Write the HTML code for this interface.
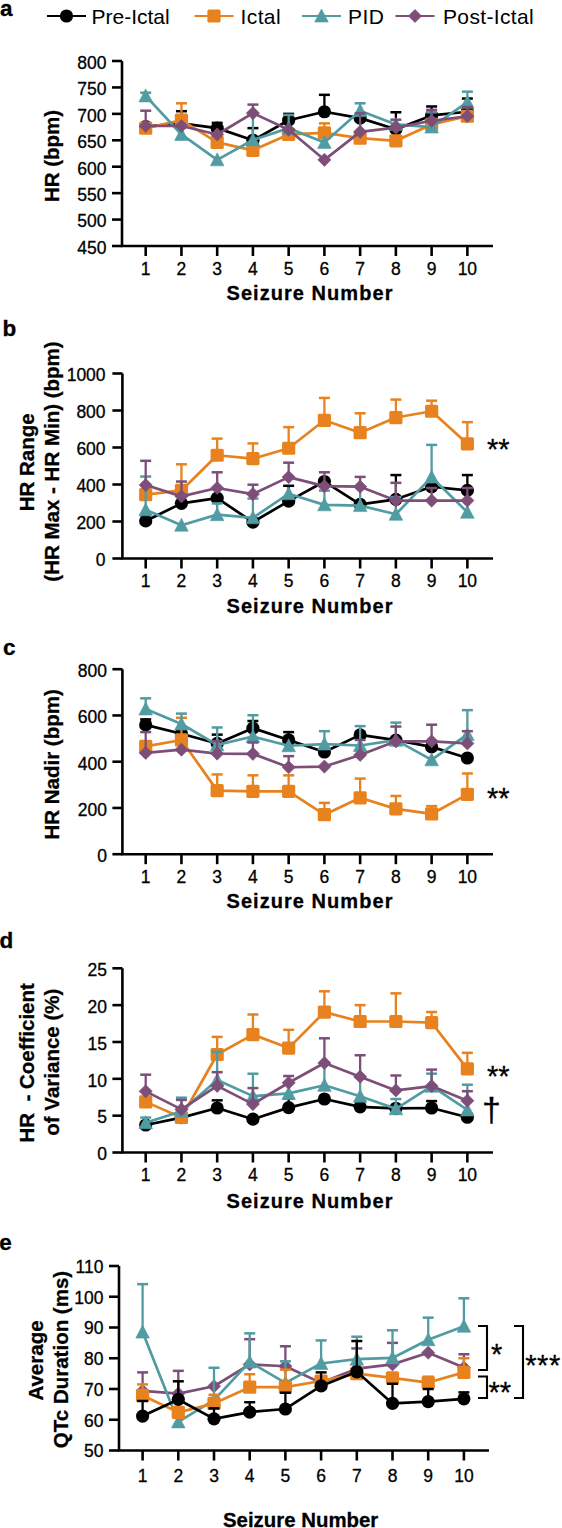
<!DOCTYPE html>
<html><head><meta charset="utf-8"><style>
html,body{margin:0;padding:0;background:#fff;}
svg{display:block;font-family:"Liberation Sans", sans-serif;}
text{stroke:#000;stroke-width:0.3px;paint-order:stroke;}
</style></head><body>
<svg width="562" height="1528" viewBox="0 0 562 1528" font-family='"Liberation Sans", sans-serif'>
<rect width="562" height="1528" fill="#fff"/>
<line x1="47" y1="16" x2="86" y2="16" stroke="#000000" stroke-width="2.2"/>
<circle cx="66.50" cy="16.00" r="6.60" fill="#000000"/>
<text x="91.5" y="23.5" font-size="21" letter-spacing="0" style="stroke-width:0">Pre-Ictal</text>
<line x1="194.5" y1="16" x2="233.5" y2="16" stroke="#E8821E" stroke-width="2.2"/>
<rect x="207.40" y="9.40" width="13.20" height="13.20" rx="1.6" fill="#E8821E"/>
<text x="240.5" y="23.5" font-size="21" letter-spacing="0.4" style="stroke-width:0">Ictal</text>
<line x1="302" y1="16" x2="341" y2="16" stroke="#519BA3" stroke-width="2.2"/>
<polygon points="321.50,9.00 328.30,22.00 314.70,22.00" fill="#519BA3" stroke="#519BA3" stroke-width="0.6" stroke-linejoin="round"/>
<text x="348" y="23.5" font-size="21" letter-spacing="0.4" style="stroke-width:0">PID</text>
<line x1="395.5" y1="16" x2="434.5" y2="16" stroke="#7C4E78" stroke-width="2.2"/>
<polygon points="415.00,9.40 421.60,16.00 415.00,22.60 408.40,16.00" fill="#7C4E78" stroke="#7C4E78" stroke-width="0.6" stroke-linejoin="round"/>
<text x="443" y="23.5" font-size="21" letter-spacing="0.35" style="stroke-width:0">Post-Ictal</text>
<path d="M122.00,61.00 V246.00 H493.00" fill="none" stroke="#000" stroke-width="2.6"/>
<line x1="112.00" y1="246.00" x2="122.00" y2="246.00" stroke="#000" stroke-width="2.6"/>
<text x="106.50" y="253.80" text-anchor="end" font-size="17.5">450</text>
<line x1="112.00" y1="219.57" x2="122.00" y2="219.57" stroke="#000" stroke-width="2.6"/>
<text x="106.50" y="227.37" text-anchor="end" font-size="17.5">500</text>
<line x1="112.00" y1="193.14" x2="122.00" y2="193.14" stroke="#000" stroke-width="2.6"/>
<text x="106.50" y="200.94" text-anchor="end" font-size="17.5">550</text>
<line x1="112.00" y1="166.71" x2="122.00" y2="166.71" stroke="#000" stroke-width="2.6"/>
<text x="106.50" y="174.51" text-anchor="end" font-size="17.5">600</text>
<line x1="112.00" y1="140.29" x2="122.00" y2="140.29" stroke="#000" stroke-width="2.6"/>
<text x="106.50" y="148.09" text-anchor="end" font-size="17.5">650</text>
<line x1="112.00" y1="113.86" x2="122.00" y2="113.86" stroke="#000" stroke-width="2.6"/>
<text x="106.50" y="121.66" text-anchor="end" font-size="17.5">700</text>
<line x1="112.00" y1="87.43" x2="122.00" y2="87.43" stroke="#000" stroke-width="2.6"/>
<text x="106.50" y="95.23" text-anchor="end" font-size="17.5">750</text>
<line x1="112.00" y1="61.00" x2="122.00" y2="61.00" stroke="#000" stroke-width="2.6"/>
<text x="106.50" y="68.80" text-anchor="end" font-size="17.5">800</text>
<line x1="145.70" y1="246.00" x2="145.70" y2="256.00" stroke="#000" stroke-width="2.6"/>
<text x="145.70" y="274.80" text-anchor="middle" font-size="17.5">1</text>
<line x1="181.44" y1="246.00" x2="181.44" y2="256.00" stroke="#000" stroke-width="2.6"/>
<text x="181.44" y="274.80" text-anchor="middle" font-size="17.5">2</text>
<line x1="217.18" y1="246.00" x2="217.18" y2="256.00" stroke="#000" stroke-width="2.6"/>
<text x="217.18" y="274.80" text-anchor="middle" font-size="17.5">3</text>
<line x1="252.92" y1="246.00" x2="252.92" y2="256.00" stroke="#000" stroke-width="2.6"/>
<text x="252.92" y="274.80" text-anchor="middle" font-size="17.5">4</text>
<line x1="288.66" y1="246.00" x2="288.66" y2="256.00" stroke="#000" stroke-width="2.6"/>
<text x="288.66" y="274.80" text-anchor="middle" font-size="17.5">5</text>
<line x1="324.40" y1="246.00" x2="324.40" y2="256.00" stroke="#000" stroke-width="2.6"/>
<text x="324.40" y="274.80" text-anchor="middle" font-size="17.5">6</text>
<line x1="360.14" y1="246.00" x2="360.14" y2="256.00" stroke="#000" stroke-width="2.6"/>
<text x="360.14" y="274.80" text-anchor="middle" font-size="17.5">7</text>
<line x1="395.88" y1="246.00" x2="395.88" y2="256.00" stroke="#000" stroke-width="2.6"/>
<text x="395.88" y="274.80" text-anchor="middle" font-size="17.5">8</text>
<line x1="431.62" y1="246.00" x2="431.62" y2="256.00" stroke="#000" stroke-width="2.6"/>
<text x="431.62" y="274.80" text-anchor="middle" font-size="17.5">9</text>
<line x1="467.36" y1="246.00" x2="467.36" y2="256.00" stroke="#000" stroke-width="2.6"/>
<text x="467.36" y="274.80" text-anchor="middle" font-size="17.5">10</text>
<text x="226.50" y="299.50" font-size="20" font-weight="bold" letter-spacing="1.05">Seizure Number</text>
<text transform="translate(58.80,156.00) rotate(-90)" text-anchor="middle" font-size="20.5" font-weight="bold">HR (bpm)</text>
<text x="0" y="16.3" font-size="22.5" font-weight="bold">a</text>
<polyline points="145.70,126.54 181.44,123.37 217.18,128.13 252.92,140.29 288.66,120.20 324.40,111.74 360.14,118.09 395.88,129.19 431.62,115.44 467.36,111.74" fill="none" stroke="#000000" stroke-width="2.7" stroke-linejoin="round"/>
<line x1="181.44" y1="123.37" x2="181.44" y2="111.21" stroke="#000000" stroke-width="2.3"/>
<line x1="175.94" y1="111.21" x2="186.94" y2="111.21" stroke="#000000" stroke-width="2.5"/>
<line x1="217.18" y1="128.13" x2="217.18" y2="122.84" stroke="#000000" stroke-width="2.3"/>
<line x1="211.68" y1="122.84" x2="222.68" y2="122.84" stroke="#000000" stroke-width="2.5"/>
<line x1="252.92" y1="140.29" x2="252.92" y2="128.13" stroke="#000000" stroke-width="2.3"/>
<line x1="247.42" y1="128.13" x2="258.42" y2="128.13" stroke="#000000" stroke-width="2.5"/>
<line x1="288.66" y1="120.20" x2="288.66" y2="113.86" stroke="#000000" stroke-width="2.3"/>
<line x1="283.16" y1="113.86" x2="294.16" y2="113.86" stroke="#000000" stroke-width="2.5"/>
<line x1="324.40" y1="111.74" x2="324.40" y2="94.83" stroke="#000000" stroke-width="2.3"/>
<line x1="318.90" y1="94.83" x2="329.90" y2="94.83" stroke="#000000" stroke-width="2.5"/>
<line x1="395.88" y1="129.19" x2="395.88" y2="112.27" stroke="#000000" stroke-width="2.3"/>
<line x1="390.38" y1="112.27" x2="401.38" y2="112.27" stroke="#000000" stroke-width="2.5"/>
<line x1="431.62" y1="115.44" x2="431.62" y2="106.46" stroke="#000000" stroke-width="2.3"/>
<line x1="426.12" y1="106.46" x2="437.12" y2="106.46" stroke="#000000" stroke-width="2.5"/>
<line x1="467.36" y1="111.74" x2="467.36" y2="98.53" stroke="#000000" stroke-width="2.3"/>
<line x1="461.86" y1="98.53" x2="472.86" y2="98.53" stroke="#000000" stroke-width="2.5"/>
<circle cx="145.70" cy="126.54" r="6.60" fill="#000000"/>
<circle cx="181.44" cy="123.37" r="6.60" fill="#000000"/>
<circle cx="217.18" cy="128.13" r="6.60" fill="#000000"/>
<circle cx="252.92" cy="140.29" r="6.60" fill="#000000"/>
<circle cx="288.66" cy="120.20" r="6.60" fill="#000000"/>
<circle cx="324.40" cy="111.74" r="6.60" fill="#000000"/>
<circle cx="360.14" cy="118.09" r="6.60" fill="#000000"/>
<circle cx="395.88" cy="129.19" r="6.60" fill="#000000"/>
<circle cx="431.62" cy="115.44" r="6.60" fill="#000000"/>
<circle cx="467.36" cy="111.74" r="6.60" fill="#000000"/>
<polyline points="145.70,128.13 181.44,120.20 217.18,142.40 252.92,150.33 288.66,134.47 324.40,132.89 360.14,138.17 395.88,140.81 431.62,124.43 467.36,116.24" fill="none" stroke="#E8821E" stroke-width="2.7" stroke-linejoin="round"/>
<line x1="181.44" y1="120.20" x2="181.44" y2="103.29" stroke="#E8821E" stroke-width="2.3"/>
<line x1="175.94" y1="103.29" x2="186.94" y2="103.29" stroke="#E8821E" stroke-width="2.5"/>
<line x1="324.40" y1="132.89" x2="324.40" y2="123.37" stroke="#E8821E" stroke-width="2.3"/>
<line x1="318.90" y1="123.37" x2="329.90" y2="123.37" stroke="#E8821E" stroke-width="2.5"/>
<rect x="139.10" y="121.53" width="13.20" height="13.20" rx="1.6" fill="#E8821E"/>
<rect x="174.84" y="113.60" width="13.20" height="13.20" rx="1.6" fill="#E8821E"/>
<rect x="210.58" y="135.80" width="13.20" height="13.20" rx="1.6" fill="#E8821E"/>
<rect x="246.32" y="143.73" width="13.20" height="13.20" rx="1.6" fill="#E8821E"/>
<rect x="282.06" y="127.87" width="13.20" height="13.20" rx="1.6" fill="#E8821E"/>
<rect x="317.80" y="126.29" width="13.20" height="13.20" rx="1.6" fill="#E8821E"/>
<rect x="353.54" y="131.57" width="13.20" height="13.20" rx="1.6" fill="#E8821E"/>
<rect x="389.28" y="134.21" width="13.20" height="13.20" rx="1.6" fill="#E8821E"/>
<rect x="425.02" y="117.83" width="13.20" height="13.20" rx="1.6" fill="#E8821E"/>
<rect x="460.76" y="109.64" width="13.20" height="13.20" rx="1.6" fill="#E8821E"/>
<polyline points="145.70,95.89 181.44,134.47 217.18,159.84 252.92,140.02 288.66,128.13 324.40,142.40 360.14,110.69 395.88,124.43 431.62,127.07 467.36,102.23" fill="none" stroke="#519BA3" stroke-width="2.7" stroke-linejoin="round"/>
<line x1="145.70" y1="95.89" x2="145.70" y2="92.71" stroke="#519BA3" stroke-width="2.3"/>
<line x1="140.20" y1="92.71" x2="151.20" y2="92.71" stroke="#519BA3" stroke-width="2.5"/>
<line x1="252.92" y1="140.02" x2="252.92" y2="113.86" stroke="#519BA3" stroke-width="2.3"/>
<line x1="247.42" y1="113.86" x2="258.42" y2="113.86" stroke="#519BA3" stroke-width="2.5"/>
<line x1="288.66" y1="128.13" x2="288.66" y2="114.91" stroke="#519BA3" stroke-width="2.3"/>
<line x1="283.16" y1="114.91" x2="294.16" y2="114.91" stroke="#519BA3" stroke-width="2.5"/>
<line x1="360.14" y1="110.69" x2="360.14" y2="103.29" stroke="#519BA3" stroke-width="2.3"/>
<line x1="354.64" y1="103.29" x2="365.64" y2="103.29" stroke="#519BA3" stroke-width="2.5"/>
<line x1="431.62" y1="127.07" x2="431.62" y2="112.27" stroke="#519BA3" stroke-width="2.3"/>
<line x1="426.12" y1="112.27" x2="437.12" y2="112.27" stroke="#519BA3" stroke-width="2.5"/>
<line x1="467.36" y1="102.23" x2="467.36" y2="91.66" stroke="#519BA3" stroke-width="2.3"/>
<line x1="461.86" y1="91.66" x2="472.86" y2="91.66" stroke="#519BA3" stroke-width="2.5"/>
<polygon points="145.70,88.89 152.50,101.89 138.90,101.89" fill="#519BA3" stroke="#519BA3" stroke-width="0.6" stroke-linejoin="round"/>
<polygon points="181.44,127.47 188.24,140.47 174.64,140.47" fill="#519BA3" stroke="#519BA3" stroke-width="0.6" stroke-linejoin="round"/>
<polygon points="217.18,152.84 223.98,165.84 210.38,165.84" fill="#519BA3" stroke="#519BA3" stroke-width="0.6" stroke-linejoin="round"/>
<polygon points="252.92,133.02 259.72,146.02 246.12,146.02" fill="#519BA3" stroke="#519BA3" stroke-width="0.6" stroke-linejoin="round"/>
<polygon points="288.66,121.13 295.46,134.13 281.86,134.13" fill="#519BA3" stroke="#519BA3" stroke-width="0.6" stroke-linejoin="round"/>
<polygon points="324.40,135.40 331.20,148.40 317.60,148.40" fill="#519BA3" stroke="#519BA3" stroke-width="0.6" stroke-linejoin="round"/>
<polygon points="360.14,103.69 366.94,116.69 353.34,116.69" fill="#519BA3" stroke="#519BA3" stroke-width="0.6" stroke-linejoin="round"/>
<polygon points="395.88,117.43 402.68,130.43 389.08,130.43" fill="#519BA3" stroke="#519BA3" stroke-width="0.6" stroke-linejoin="round"/>
<polygon points="431.62,120.07 438.42,133.07 424.82,133.07" fill="#519BA3" stroke="#519BA3" stroke-width="0.6" stroke-linejoin="round"/>
<polygon points="467.36,95.23 474.16,108.23 460.56,108.23" fill="#519BA3" stroke="#519BA3" stroke-width="0.6" stroke-linejoin="round"/>
<polyline points="145.70,126.01 181.44,126.01 217.18,134.47 252.92,113.12 288.66,129.71 324.40,159.84 360.14,131.83 395.88,127.60 431.62,120.73 467.36,116.24" fill="none" stroke="#7C4E78" stroke-width="2.7" stroke-linejoin="round"/>
<line x1="145.70" y1="126.01" x2="145.70" y2="110.69" stroke="#7C4E78" stroke-width="2.3"/>
<line x1="140.20" y1="110.69" x2="151.20" y2="110.69" stroke="#7C4E78" stroke-width="2.5"/>
<line x1="252.92" y1="113.12" x2="252.92" y2="104.61" stroke="#7C4E78" stroke-width="2.3"/>
<line x1="247.42" y1="104.61" x2="258.42" y2="104.61" stroke="#7C4E78" stroke-width="2.5"/>
<line x1="360.14" y1="131.83" x2="360.14" y2="113.33" stroke="#7C4E78" stroke-width="2.3"/>
<line x1="354.64" y1="113.33" x2="365.64" y2="113.33" stroke="#7C4E78" stroke-width="2.5"/>
<line x1="395.88" y1="127.60" x2="395.88" y2="119.67" stroke="#7C4E78" stroke-width="2.3"/>
<line x1="390.38" y1="119.67" x2="401.38" y2="119.67" stroke="#7C4E78" stroke-width="2.5"/>
<line x1="431.62" y1="120.73" x2="431.62" y2="109.89" stroke="#7C4E78" stroke-width="2.3"/>
<line x1="426.12" y1="109.89" x2="437.12" y2="109.89" stroke="#7C4E78" stroke-width="2.5"/>
<line x1="467.36" y1="116.24" x2="467.36" y2="106.99" stroke="#7C4E78" stroke-width="2.3"/>
<line x1="461.86" y1="106.99" x2="472.86" y2="106.99" stroke="#7C4E78" stroke-width="2.5"/>
<polygon points="145.70,119.41 152.30,126.01 145.70,132.61 139.10,126.01" fill="#7C4E78" stroke="#7C4E78" stroke-width="0.6" stroke-linejoin="round"/>
<polygon points="181.44,119.41 188.04,126.01 181.44,132.61 174.84,126.01" fill="#7C4E78" stroke="#7C4E78" stroke-width="0.6" stroke-linejoin="round"/>
<polygon points="217.18,127.87 223.78,134.47 217.18,141.07 210.58,134.47" fill="#7C4E78" stroke="#7C4E78" stroke-width="0.6" stroke-linejoin="round"/>
<polygon points="252.92,106.52 259.52,113.12 252.92,119.72 246.32,113.12" fill="#7C4E78" stroke="#7C4E78" stroke-width="0.6" stroke-linejoin="round"/>
<polygon points="288.66,123.11 295.26,129.71 288.66,136.31 282.06,129.71" fill="#7C4E78" stroke="#7C4E78" stroke-width="0.6" stroke-linejoin="round"/>
<polygon points="324.40,153.24 331.00,159.84 324.40,166.44 317.80,159.84" fill="#7C4E78" stroke="#7C4E78" stroke-width="0.6" stroke-linejoin="round"/>
<polygon points="360.14,125.23 366.74,131.83 360.14,138.43 353.54,131.83" fill="#7C4E78" stroke="#7C4E78" stroke-width="0.6" stroke-linejoin="round"/>
<polygon points="395.88,121.00 402.48,127.60 395.88,134.20 389.28,127.60" fill="#7C4E78" stroke="#7C4E78" stroke-width="0.6" stroke-linejoin="round"/>
<polygon points="431.62,114.13 438.22,120.73 431.62,127.33 425.02,120.73" fill="#7C4E78" stroke="#7C4E78" stroke-width="0.6" stroke-linejoin="round"/>
<polygon points="467.36,109.64 473.96,116.24 467.36,122.84 460.76,116.24" fill="#7C4E78" stroke="#7C4E78" stroke-width="0.6" stroke-linejoin="round"/>
<path d="M122.40,373.50 V558.50 H493.00" fill="none" stroke="#000" stroke-width="2.6"/>
<line x1="112.40" y1="558.50" x2="122.40" y2="558.50" stroke="#000" stroke-width="2.6"/>
<text x="105.60" y="566.30" text-anchor="end" font-size="17.5">0</text>
<line x1="112.40" y1="521.50" x2="122.40" y2="521.50" stroke="#000" stroke-width="2.6"/>
<text x="105.60" y="529.30" text-anchor="end" font-size="17.5">200</text>
<line x1="112.40" y1="484.50" x2="122.40" y2="484.50" stroke="#000" stroke-width="2.6"/>
<text x="105.60" y="492.30" text-anchor="end" font-size="17.5">400</text>
<line x1="112.40" y1="447.50" x2="122.40" y2="447.50" stroke="#000" stroke-width="2.6"/>
<text x="105.60" y="455.30" text-anchor="end" font-size="17.5">600</text>
<line x1="112.40" y1="410.50" x2="122.40" y2="410.50" stroke="#000" stroke-width="2.6"/>
<text x="105.60" y="418.30" text-anchor="end" font-size="17.5">800</text>
<line x1="112.40" y1="373.50" x2="122.40" y2="373.50" stroke="#000" stroke-width="2.6"/>
<text x="105.60" y="381.30" text-anchor="end" font-size="17.5">1000</text>
<line x1="145.70" y1="558.50" x2="145.70" y2="568.50" stroke="#000" stroke-width="2.6"/>
<text x="145.70" y="587.30" text-anchor="middle" font-size="17.5">1</text>
<line x1="181.44" y1="558.50" x2="181.44" y2="568.50" stroke="#000" stroke-width="2.6"/>
<text x="181.44" y="587.30" text-anchor="middle" font-size="17.5">2</text>
<line x1="217.18" y1="558.50" x2="217.18" y2="568.50" stroke="#000" stroke-width="2.6"/>
<text x="217.18" y="587.30" text-anchor="middle" font-size="17.5">3</text>
<line x1="252.92" y1="558.50" x2="252.92" y2="568.50" stroke="#000" stroke-width="2.6"/>
<text x="252.92" y="587.30" text-anchor="middle" font-size="17.5">4</text>
<line x1="288.66" y1="558.50" x2="288.66" y2="568.50" stroke="#000" stroke-width="2.6"/>
<text x="288.66" y="587.30" text-anchor="middle" font-size="17.5">5</text>
<line x1="324.40" y1="558.50" x2="324.40" y2="568.50" stroke="#000" stroke-width="2.6"/>
<text x="324.40" y="587.30" text-anchor="middle" font-size="17.5">6</text>
<line x1="360.14" y1="558.50" x2="360.14" y2="568.50" stroke="#000" stroke-width="2.6"/>
<text x="360.14" y="587.30" text-anchor="middle" font-size="17.5">7</text>
<line x1="395.88" y1="558.50" x2="395.88" y2="568.50" stroke="#000" stroke-width="2.6"/>
<text x="395.88" y="587.30" text-anchor="middle" font-size="17.5">8</text>
<line x1="431.62" y1="558.50" x2="431.62" y2="568.50" stroke="#000" stroke-width="2.6"/>
<text x="431.62" y="587.30" text-anchor="middle" font-size="17.5">9</text>
<line x1="467.36" y1="558.50" x2="467.36" y2="568.50" stroke="#000" stroke-width="2.6"/>
<text x="467.36" y="587.30" text-anchor="middle" font-size="17.5">10</text>
<text x="226.50" y="612.50" font-size="20" font-weight="bold" letter-spacing="1.05">Seizure Number</text>
<text transform="translate(34.30,462.30) rotate(-90)" text-anchor="middle" font-size="20.5" font-weight="bold">HR Range</text>
<text transform="translate(59.00,461.50) rotate(-90)" text-anchor="middle" font-size="20.5" font-weight="bold">(HR Max - HR Min) (bpm)</text>
<text x="2.5" y="335.5" font-size="22.5" font-weight="bold">b</text>
<polyline points="145.70,520.95 181.44,503.37 217.18,498.19 252.92,522.05 288.66,501.15 324.40,481.54 360.14,504.30 395.88,499.30 431.62,486.72 467.36,490.42" fill="none" stroke="#000000" stroke-width="2.7" stroke-linejoin="round"/>
<line x1="288.66" y1="501.15" x2="288.66" y2="485.80" stroke="#000000" stroke-width="2.3"/>
<line x1="283.16" y1="485.80" x2="294.16" y2="485.80" stroke="#000000" stroke-width="2.5"/>
<line x1="395.88" y1="499.30" x2="395.88" y2="475.06" stroke="#000000" stroke-width="2.3"/>
<line x1="390.38" y1="475.06" x2="401.38" y2="475.06" stroke="#000000" stroke-width="2.5"/>
<line x1="467.36" y1="490.42" x2="467.36" y2="475.06" stroke="#000000" stroke-width="2.3"/>
<line x1="461.86" y1="475.06" x2="472.86" y2="475.06" stroke="#000000" stroke-width="2.5"/>
<circle cx="145.70" cy="520.95" r="6.60" fill="#000000"/>
<circle cx="181.44" cy="503.37" r="6.60" fill="#000000"/>
<circle cx="217.18" cy="498.19" r="6.60" fill="#000000"/>
<circle cx="252.92" cy="522.05" r="6.60" fill="#000000"/>
<circle cx="288.66" cy="501.15" r="6.60" fill="#000000"/>
<circle cx="324.40" cy="481.54" r="6.60" fill="#000000"/>
<circle cx="360.14" cy="504.30" r="6.60" fill="#000000"/>
<circle cx="395.88" cy="499.30" r="6.60" fill="#000000"/>
<circle cx="431.62" cy="486.72" r="6.60" fill="#000000"/>
<circle cx="467.36" cy="490.42" r="6.60" fill="#000000"/>
<polyline points="145.70,494.68 181.44,490.42 217.18,455.27 252.92,458.60 288.66,448.24 324.40,420.31 360.14,432.70 395.88,417.53 431.62,411.24 467.36,443.80" fill="none" stroke="#E8821E" stroke-width="2.7" stroke-linejoin="round"/>
<line x1="181.44" y1="490.42" x2="181.44" y2="464.33" stroke="#E8821E" stroke-width="2.3"/>
<line x1="175.94" y1="464.33" x2="186.94" y2="464.33" stroke="#E8821E" stroke-width="2.5"/>
<line x1="217.18" y1="455.27" x2="217.18" y2="438.62" stroke="#E8821E" stroke-width="2.3"/>
<line x1="211.68" y1="438.62" x2="222.68" y2="438.62" stroke="#E8821E" stroke-width="2.5"/>
<line x1="252.92" y1="458.60" x2="252.92" y2="443.43" stroke="#E8821E" stroke-width="2.3"/>
<line x1="247.42" y1="443.43" x2="258.42" y2="443.43" stroke="#E8821E" stroke-width="2.5"/>
<line x1="288.66" y1="448.24" x2="288.66" y2="427.15" stroke="#E8821E" stroke-width="2.3"/>
<line x1="283.16" y1="427.15" x2="294.16" y2="427.15" stroke="#E8821E" stroke-width="2.5"/>
<line x1="324.40" y1="420.31" x2="324.40" y2="397.92" stroke="#E8821E" stroke-width="2.3"/>
<line x1="318.90" y1="397.92" x2="329.90" y2="397.92" stroke="#E8821E" stroke-width="2.5"/>
<line x1="360.14" y1="432.70" x2="360.14" y2="413.27" stroke="#E8821E" stroke-width="2.3"/>
<line x1="354.64" y1="413.27" x2="365.64" y2="413.27" stroke="#E8821E" stroke-width="2.5"/>
<line x1="395.88" y1="417.53" x2="395.88" y2="399.59" stroke="#E8821E" stroke-width="2.3"/>
<line x1="390.38" y1="399.59" x2="401.38" y2="399.59" stroke="#E8821E" stroke-width="2.5"/>
<line x1="431.62" y1="411.24" x2="431.62" y2="400.69" stroke="#E8821E" stroke-width="2.3"/>
<line x1="426.12" y1="400.69" x2="437.12" y2="400.69" stroke="#E8821E" stroke-width="2.5"/>
<line x1="467.36" y1="443.80" x2="467.36" y2="422.15" stroke="#E8821E" stroke-width="2.3"/>
<line x1="461.86" y1="422.15" x2="472.86" y2="422.15" stroke="#E8821E" stroke-width="2.5"/>
<rect x="139.10" y="488.07" width="13.20" height="13.20" rx="1.6" fill="#E8821E"/>
<rect x="174.84" y="483.82" width="13.20" height="13.20" rx="1.6" fill="#E8821E"/>
<rect x="210.58" y="448.67" width="13.20" height="13.20" rx="1.6" fill="#E8821E"/>
<rect x="246.32" y="452.00" width="13.20" height="13.20" rx="1.6" fill="#E8821E"/>
<rect x="282.06" y="441.64" width="13.20" height="13.20" rx="1.6" fill="#E8821E"/>
<rect x="317.80" y="413.70" width="13.20" height="13.20" rx="1.6" fill="#E8821E"/>
<rect x="353.54" y="426.10" width="13.20" height="13.20" rx="1.6" fill="#E8821E"/>
<rect x="389.28" y="410.93" width="13.20" height="13.20" rx="1.6" fill="#E8821E"/>
<rect x="425.02" y="404.64" width="13.20" height="13.20" rx="1.6" fill="#E8821E"/>
<rect x="460.76" y="437.20" width="13.20" height="13.20" rx="1.6" fill="#E8821E"/>
<polyline points="145.70,509.85 181.44,525.20 217.18,514.65 252.92,517.80 288.66,493.75 324.40,504.85 360.14,505.59 395.88,514.28 431.62,477.10 467.36,512.25" fill="none" stroke="#519BA3" stroke-width="2.7" stroke-linejoin="round"/>
<line x1="145.70" y1="509.85" x2="145.70" y2="476.55" stroke="#519BA3" stroke-width="2.3"/>
<line x1="140.20" y1="476.55" x2="151.20" y2="476.55" stroke="#519BA3" stroke-width="2.5"/>
<line x1="217.18" y1="514.65" x2="217.18" y2="503.37" stroke="#519BA3" stroke-width="2.3"/>
<line x1="211.68" y1="503.37" x2="222.68" y2="503.37" stroke="#519BA3" stroke-width="2.5"/>
<line x1="252.92" y1="517.80" x2="252.92" y2="498.56" stroke="#519BA3" stroke-width="2.3"/>
<line x1="247.42" y1="498.56" x2="258.42" y2="498.56" stroke="#519BA3" stroke-width="2.5"/>
<line x1="324.40" y1="504.85" x2="324.40" y2="490.61" stroke="#519BA3" stroke-width="2.3"/>
<line x1="318.90" y1="490.61" x2="329.90" y2="490.61" stroke="#519BA3" stroke-width="2.5"/>
<line x1="360.14" y1="505.59" x2="360.14" y2="486.72" stroke="#519BA3" stroke-width="2.3"/>
<line x1="354.64" y1="486.72" x2="365.64" y2="486.72" stroke="#519BA3" stroke-width="2.5"/>
<line x1="395.88" y1="514.28" x2="395.88" y2="497.08" stroke="#519BA3" stroke-width="2.3"/>
<line x1="390.38" y1="497.08" x2="401.38" y2="497.08" stroke="#519BA3" stroke-width="2.5"/>
<line x1="431.62" y1="477.10" x2="431.62" y2="444.91" stroke="#519BA3" stroke-width="2.3"/>
<line x1="426.12" y1="444.91" x2="437.12" y2="444.91" stroke="#519BA3" stroke-width="2.5"/>
<polygon points="145.70,502.85 152.50,515.85 138.90,515.85" fill="#519BA3" stroke="#519BA3" stroke-width="0.6" stroke-linejoin="round"/>
<polygon points="181.44,518.20 188.24,531.20 174.64,531.20" fill="#519BA3" stroke="#519BA3" stroke-width="0.6" stroke-linejoin="round"/>
<polygon points="217.18,507.65 223.98,520.65 210.38,520.65" fill="#519BA3" stroke="#519BA3" stroke-width="0.6" stroke-linejoin="round"/>
<polygon points="252.92,510.80 259.72,523.80 246.12,523.80" fill="#519BA3" stroke="#519BA3" stroke-width="0.6" stroke-linejoin="round"/>
<polygon points="288.66,486.75 295.46,499.75 281.86,499.75" fill="#519BA3" stroke="#519BA3" stroke-width="0.6" stroke-linejoin="round"/>
<polygon points="324.40,497.85 331.20,510.85 317.60,510.85" fill="#519BA3" stroke="#519BA3" stroke-width="0.6" stroke-linejoin="round"/>
<polygon points="360.14,498.59 366.94,511.59 353.34,511.59" fill="#519BA3" stroke="#519BA3" stroke-width="0.6" stroke-linejoin="round"/>
<polygon points="395.88,507.28 402.68,520.28 389.08,520.28" fill="#519BA3" stroke="#519BA3" stroke-width="0.6" stroke-linejoin="round"/>
<polygon points="431.62,470.10 438.42,483.10 424.82,483.10" fill="#519BA3" stroke="#519BA3" stroke-width="0.6" stroke-linejoin="round"/>
<polygon points="467.36,505.25 474.16,518.25 460.56,518.25" fill="#519BA3" stroke="#519BA3" stroke-width="0.6" stroke-linejoin="round"/>
<polyline points="145.70,485.06 181.44,496.34 217.18,488.01 252.92,494.12 288.66,477.10 324.40,486.17 360.14,486.72 395.88,500.60 431.62,500.60 467.36,500.60" fill="none" stroke="#7C4E78" stroke-width="2.7" stroke-linejoin="round"/>
<line x1="145.70" y1="485.06" x2="145.70" y2="460.82" stroke="#7C4E78" stroke-width="2.3"/>
<line x1="140.20" y1="460.82" x2="151.20" y2="460.82" stroke="#7C4E78" stroke-width="2.5"/>
<line x1="181.44" y1="496.34" x2="181.44" y2="481.54" stroke="#7C4E78" stroke-width="2.3"/>
<line x1="175.94" y1="481.54" x2="186.94" y2="481.54" stroke="#7C4E78" stroke-width="2.5"/>
<line x1="217.18" y1="488.01" x2="217.18" y2="472.29" stroke="#7C4E78" stroke-width="2.3"/>
<line x1="211.68" y1="472.29" x2="222.68" y2="472.29" stroke="#7C4E78" stroke-width="2.5"/>
<line x1="252.92" y1="494.12" x2="252.92" y2="484.69" stroke="#7C4E78" stroke-width="2.3"/>
<line x1="247.42" y1="484.69" x2="258.42" y2="484.69" stroke="#7C4E78" stroke-width="2.5"/>
<line x1="288.66" y1="477.10" x2="288.66" y2="462.67" stroke="#7C4E78" stroke-width="2.3"/>
<line x1="283.16" y1="462.67" x2="294.16" y2="462.67" stroke="#7C4E78" stroke-width="2.5"/>
<line x1="324.40" y1="486.17" x2="324.40" y2="472.29" stroke="#7C4E78" stroke-width="2.3"/>
<line x1="318.90" y1="472.29" x2="329.90" y2="472.29" stroke="#7C4E78" stroke-width="2.5"/>
<line x1="360.14" y1="486.72" x2="360.14" y2="476.92" stroke="#7C4E78" stroke-width="2.3"/>
<line x1="354.64" y1="476.92" x2="365.64" y2="476.92" stroke="#7C4E78" stroke-width="2.5"/>
<line x1="395.88" y1="500.60" x2="395.88" y2="482.83" stroke="#7C4E78" stroke-width="2.3"/>
<line x1="390.38" y1="482.83" x2="401.38" y2="482.83" stroke="#7C4E78" stroke-width="2.5"/>
<line x1="431.62" y1="500.60" x2="431.62" y2="488.01" stroke="#7C4E78" stroke-width="2.3"/>
<line x1="426.12" y1="488.01" x2="437.12" y2="488.01" stroke="#7C4E78" stroke-width="2.5"/>
<line x1="467.36" y1="500.60" x2="467.36" y2="488.01" stroke="#7C4E78" stroke-width="2.3"/>
<line x1="461.86" y1="488.01" x2="472.86" y2="488.01" stroke="#7C4E78" stroke-width="2.5"/>
<polygon points="145.70,478.45 152.30,485.06 145.70,491.66 139.10,485.06" fill="#7C4E78" stroke="#7C4E78" stroke-width="0.6" stroke-linejoin="round"/>
<polygon points="181.44,489.74 188.04,496.34 181.44,502.94 174.84,496.34" fill="#7C4E78" stroke="#7C4E78" stroke-width="0.6" stroke-linejoin="round"/>
<polygon points="217.18,481.41 223.78,488.01 217.18,494.62 210.58,488.01" fill="#7C4E78" stroke="#7C4E78" stroke-width="0.6" stroke-linejoin="round"/>
<polygon points="252.92,487.52 259.52,494.12 252.92,500.72 246.32,494.12" fill="#7C4E78" stroke="#7C4E78" stroke-width="0.6" stroke-linejoin="round"/>
<polygon points="288.66,470.50 295.26,477.10 288.66,483.70 282.06,477.10" fill="#7C4E78" stroke="#7C4E78" stroke-width="0.6" stroke-linejoin="round"/>
<polygon points="324.40,479.56 331.00,486.17 324.40,492.77 317.80,486.17" fill="#7C4E78" stroke="#7C4E78" stroke-width="0.6" stroke-linejoin="round"/>
<polygon points="360.14,480.12 366.74,486.72 360.14,493.32 353.54,486.72" fill="#7C4E78" stroke="#7C4E78" stroke-width="0.6" stroke-linejoin="round"/>
<polygon points="395.88,494.00 402.48,500.60 395.88,507.20 389.28,500.60" fill="#7C4E78" stroke="#7C4E78" stroke-width="0.6" stroke-linejoin="round"/>
<polygon points="431.62,494.00 438.22,500.60 431.62,507.20 425.02,500.60" fill="#7C4E78" stroke="#7C4E78" stroke-width="0.6" stroke-linejoin="round"/>
<polygon points="467.36,494.00 473.96,500.60 467.36,507.20 460.76,500.60" fill="#7C4E78" stroke="#7C4E78" stroke-width="0.6" stroke-linejoin="round"/>
<text x="487" y="459.2" font-size="29">**</text>
<path d="M122.40,669.20 V854.20 H493.00" fill="none" stroke="#000" stroke-width="2.6"/>
<line x1="112.40" y1="854.20" x2="122.40" y2="854.20" stroke="#000" stroke-width="2.6"/>
<text x="106.90" y="862.00" text-anchor="end" font-size="17.5">0</text>
<line x1="112.40" y1="807.95" x2="122.40" y2="807.95" stroke="#000" stroke-width="2.6"/>
<text x="106.90" y="815.75" text-anchor="end" font-size="17.5">200</text>
<line x1="112.40" y1="761.70" x2="122.40" y2="761.70" stroke="#000" stroke-width="2.6"/>
<text x="106.90" y="769.50" text-anchor="end" font-size="17.5">400</text>
<line x1="112.40" y1="715.45" x2="122.40" y2="715.45" stroke="#000" stroke-width="2.6"/>
<text x="106.90" y="723.25" text-anchor="end" font-size="17.5">600</text>
<line x1="112.40" y1="669.20" x2="122.40" y2="669.20" stroke="#000" stroke-width="2.6"/>
<text x="106.90" y="677.00" text-anchor="end" font-size="17.5">800</text>
<line x1="145.70" y1="854.20" x2="145.70" y2="864.20" stroke="#000" stroke-width="2.6"/>
<text x="145.70" y="883.00" text-anchor="middle" font-size="17.5">1</text>
<line x1="181.44" y1="854.20" x2="181.44" y2="864.20" stroke="#000" stroke-width="2.6"/>
<text x="181.44" y="883.00" text-anchor="middle" font-size="17.5">2</text>
<line x1="217.18" y1="854.20" x2="217.18" y2="864.20" stroke="#000" stroke-width="2.6"/>
<text x="217.18" y="883.00" text-anchor="middle" font-size="17.5">3</text>
<line x1="252.92" y1="854.20" x2="252.92" y2="864.20" stroke="#000" stroke-width="2.6"/>
<text x="252.92" y="883.00" text-anchor="middle" font-size="17.5">4</text>
<line x1="288.66" y1="854.20" x2="288.66" y2="864.20" stroke="#000" stroke-width="2.6"/>
<text x="288.66" y="883.00" text-anchor="middle" font-size="17.5">5</text>
<line x1="324.40" y1="854.20" x2="324.40" y2="864.20" stroke="#000" stroke-width="2.6"/>
<text x="324.40" y="883.00" text-anchor="middle" font-size="17.5">6</text>
<line x1="360.14" y1="854.20" x2="360.14" y2="864.20" stroke="#000" stroke-width="2.6"/>
<text x="360.14" y="883.00" text-anchor="middle" font-size="17.5">7</text>
<line x1="395.88" y1="854.20" x2="395.88" y2="864.20" stroke="#000" stroke-width="2.6"/>
<text x="395.88" y="883.00" text-anchor="middle" font-size="17.5">8</text>
<line x1="431.62" y1="854.20" x2="431.62" y2="864.20" stroke="#000" stroke-width="2.6"/>
<text x="431.62" y="883.00" text-anchor="middle" font-size="17.5">9</text>
<line x1="467.36" y1="854.20" x2="467.36" y2="864.20" stroke="#000" stroke-width="2.6"/>
<text x="467.36" y="883.00" text-anchor="middle" font-size="17.5">10</text>
<text x="226.50" y="907.50" font-size="20" font-weight="bold" letter-spacing="1.05">Seizure Number</text>
<text transform="translate(59.00,764.40) rotate(-90)" text-anchor="middle" font-size="20.5" font-weight="bold">HR Nadir (bpm)</text>
<text x="3" y="654.5" font-size="22.5" font-weight="bold">c</text>
<polyline points="145.70,724.93 181.44,733.72 217.18,743.43 252.92,728.17 288.66,739.96 324.40,751.99 360.14,734.88 395.88,740.19 431.62,746.90 467.36,758.00" fill="none" stroke="#000000" stroke-width="2.7" stroke-linejoin="round"/>
<line x1="145.70" y1="724.93" x2="145.70" y2="719.38" stroke="#000000" stroke-width="2.3"/>
<line x1="140.20" y1="719.38" x2="151.20" y2="719.38" stroke="#000000" stroke-width="2.5"/>
<line x1="217.18" y1="743.43" x2="217.18" y2="734.64" stroke="#000000" stroke-width="2.3"/>
<line x1="211.68" y1="734.64" x2="222.68" y2="734.64" stroke="#000000" stroke-width="2.5"/>
<line x1="252.92" y1="728.17" x2="252.92" y2="721.00" stroke="#000000" stroke-width="2.3"/>
<line x1="247.42" y1="721.00" x2="258.42" y2="721.00" stroke="#000000" stroke-width="2.5"/>
<line x1="288.66" y1="739.96" x2="288.66" y2="732.10" stroke="#000000" stroke-width="2.3"/>
<line x1="283.16" y1="732.10" x2="294.16" y2="732.10" stroke="#000000" stroke-width="2.5"/>
<circle cx="145.70" cy="724.93" r="6.60" fill="#000000"/>
<circle cx="181.44" cy="733.72" r="6.60" fill="#000000"/>
<circle cx="217.18" cy="743.43" r="6.60" fill="#000000"/>
<circle cx="252.92" cy="728.17" r="6.60" fill="#000000"/>
<circle cx="288.66" cy="739.96" r="6.60" fill="#000000"/>
<circle cx="324.40" cy="751.99" r="6.60" fill="#000000"/>
<circle cx="360.14" cy="734.88" r="6.60" fill="#000000"/>
<circle cx="395.88" cy="740.19" r="6.60" fill="#000000"/>
<circle cx="431.62" cy="746.90" r="6.60" fill="#000000"/>
<circle cx="467.36" cy="758.00" r="6.60" fill="#000000"/>
<polyline points="145.70,746.44 181.44,739.96 217.18,790.61 252.92,791.30 288.66,791.30 324.40,814.66 360.14,797.78 395.88,808.88 431.62,813.96 467.36,794.31" fill="none" stroke="#E8821E" stroke-width="2.7" stroke-linejoin="round"/>
<line x1="181.44" y1="739.96" x2="181.44" y2="717.76" stroke="#E8821E" stroke-width="2.3"/>
<line x1="175.94" y1="717.76" x2="186.94" y2="717.76" stroke="#E8821E" stroke-width="2.5"/>
<line x1="217.18" y1="790.61" x2="217.18" y2="774.42" stroke="#E8821E" stroke-width="2.3"/>
<line x1="211.68" y1="774.42" x2="222.68" y2="774.42" stroke="#E8821E" stroke-width="2.5"/>
<line x1="252.92" y1="791.30" x2="252.92" y2="775.34" stroke="#E8821E" stroke-width="2.3"/>
<line x1="247.42" y1="775.34" x2="258.42" y2="775.34" stroke="#E8821E" stroke-width="2.5"/>
<line x1="288.66" y1="791.30" x2="288.66" y2="775.34" stroke="#E8821E" stroke-width="2.3"/>
<line x1="283.16" y1="775.34" x2="294.16" y2="775.34" stroke="#E8821E" stroke-width="2.5"/>
<line x1="324.40" y1="814.66" x2="324.40" y2="802.86" stroke="#E8821E" stroke-width="2.3"/>
<line x1="318.90" y1="802.86" x2="329.90" y2="802.86" stroke="#E8821E" stroke-width="2.5"/>
<line x1="360.14" y1="797.78" x2="360.14" y2="778.58" stroke="#E8821E" stroke-width="2.3"/>
<line x1="354.64" y1="778.58" x2="365.64" y2="778.58" stroke="#E8821E" stroke-width="2.5"/>
<line x1="395.88" y1="808.88" x2="395.88" y2="795.93" stroke="#E8821E" stroke-width="2.3"/>
<line x1="390.38" y1="795.93" x2="401.38" y2="795.93" stroke="#E8821E" stroke-width="2.5"/>
<line x1="431.62" y1="813.96" x2="431.62" y2="806.10" stroke="#E8821E" stroke-width="2.3"/>
<line x1="426.12" y1="806.10" x2="437.12" y2="806.10" stroke="#E8821E" stroke-width="2.5"/>
<line x1="467.36" y1="794.31" x2="467.36" y2="773.49" stroke="#E8821E" stroke-width="2.3"/>
<line x1="461.86" y1="773.49" x2="472.86" y2="773.49" stroke="#E8821E" stroke-width="2.5"/>
<rect x="139.10" y="739.84" width="13.20" height="13.20" rx="1.6" fill="#E8821E"/>
<rect x="174.84" y="733.36" width="13.20" height="13.20" rx="1.6" fill="#E8821E"/>
<rect x="210.58" y="784.01" width="13.20" height="13.20" rx="1.6" fill="#E8821E"/>
<rect x="246.32" y="784.70" width="13.20" height="13.20" rx="1.6" fill="#E8821E"/>
<rect x="282.06" y="784.70" width="13.20" height="13.20" rx="1.6" fill="#E8821E"/>
<rect x="317.80" y="808.06" width="13.20" height="13.20" rx="1.6" fill="#E8821E"/>
<rect x="353.54" y="791.18" width="13.20" height="13.20" rx="1.6" fill="#E8821E"/>
<rect x="389.28" y="802.27" width="13.20" height="13.20" rx="1.6" fill="#E8821E"/>
<rect x="425.02" y="807.36" width="13.20" height="13.20" rx="1.6" fill="#E8821E"/>
<rect x="460.76" y="787.71" width="13.20" height="13.20" rx="1.6" fill="#E8821E"/>
<polyline points="145.70,708.98 181.44,724.01 217.18,744.82 252.92,736.49 288.66,745.74 324.40,744.12 360.14,745.51 395.88,740.19 431.62,759.85 467.36,734.41" fill="none" stroke="#519BA3" stroke-width="2.7" stroke-linejoin="round"/>
<line x1="145.70" y1="708.98" x2="145.70" y2="698.34" stroke="#519BA3" stroke-width="2.3"/>
<line x1="140.20" y1="698.34" x2="151.20" y2="698.34" stroke="#519BA3" stroke-width="2.5"/>
<line x1="181.44" y1="724.01" x2="181.44" y2="713.60" stroke="#519BA3" stroke-width="2.3"/>
<line x1="175.94" y1="713.60" x2="186.94" y2="713.60" stroke="#519BA3" stroke-width="2.5"/>
<line x1="217.18" y1="744.82" x2="217.18" y2="727.48" stroke="#519BA3" stroke-width="2.3"/>
<line x1="211.68" y1="727.48" x2="222.68" y2="727.48" stroke="#519BA3" stroke-width="2.5"/>
<line x1="252.92" y1="736.49" x2="252.92" y2="715.22" stroke="#519BA3" stroke-width="2.3"/>
<line x1="247.42" y1="715.22" x2="258.42" y2="715.22" stroke="#519BA3" stroke-width="2.5"/>
<line x1="324.40" y1="744.12" x2="324.40" y2="731.18" stroke="#519BA3" stroke-width="2.3"/>
<line x1="318.90" y1="731.18" x2="329.90" y2="731.18" stroke="#519BA3" stroke-width="2.5"/>
<line x1="360.14" y1="745.51" x2="360.14" y2="726.09" stroke="#519BA3" stroke-width="2.3"/>
<line x1="354.64" y1="726.09" x2="365.64" y2="726.09" stroke="#519BA3" stroke-width="2.5"/>
<line x1="395.88" y1="740.19" x2="395.88" y2="722.62" stroke="#519BA3" stroke-width="2.3"/>
<line x1="390.38" y1="722.62" x2="401.38" y2="722.62" stroke="#519BA3" stroke-width="2.5"/>
<line x1="467.36" y1="734.41" x2="467.36" y2="710.13" stroke="#519BA3" stroke-width="2.3"/>
<line x1="461.86" y1="710.13" x2="472.86" y2="710.13" stroke="#519BA3" stroke-width="2.5"/>
<polygon points="145.70,701.98 152.50,714.98 138.90,714.98" fill="#519BA3" stroke="#519BA3" stroke-width="0.6" stroke-linejoin="round"/>
<polygon points="181.44,717.01 188.24,730.01 174.64,730.01" fill="#519BA3" stroke="#519BA3" stroke-width="0.6" stroke-linejoin="round"/>
<polygon points="217.18,737.82 223.98,750.82 210.38,750.82" fill="#519BA3" stroke="#519BA3" stroke-width="0.6" stroke-linejoin="round"/>
<polygon points="252.92,729.49 259.72,742.49 246.12,742.49" fill="#519BA3" stroke="#519BA3" stroke-width="0.6" stroke-linejoin="round"/>
<polygon points="288.66,738.74 295.46,751.74 281.86,751.74" fill="#519BA3" stroke="#519BA3" stroke-width="0.6" stroke-linejoin="round"/>
<polygon points="324.40,737.12 331.20,750.12 317.60,750.12" fill="#519BA3" stroke="#519BA3" stroke-width="0.6" stroke-linejoin="round"/>
<polygon points="360.14,738.51 366.94,751.51 353.34,751.51" fill="#519BA3" stroke="#519BA3" stroke-width="0.6" stroke-linejoin="round"/>
<polygon points="395.88,733.19 402.68,746.19 389.08,746.19" fill="#519BA3" stroke="#519BA3" stroke-width="0.6" stroke-linejoin="round"/>
<polygon points="431.62,752.85 438.42,765.85 424.82,765.85" fill="#519BA3" stroke="#519BA3" stroke-width="0.6" stroke-linejoin="round"/>
<polygon points="467.36,727.41 474.16,740.41 460.56,740.41" fill="#519BA3" stroke="#519BA3" stroke-width="0.6" stroke-linejoin="round"/>
<polyline points="145.70,752.91 181.44,749.68 217.18,753.61 252.92,753.84 288.66,767.25 324.40,766.56 360.14,754.99 395.88,741.35 431.62,741.35 467.36,743.43" fill="none" stroke="#7C4E78" stroke-width="2.7" stroke-linejoin="round"/>
<line x1="145.70" y1="752.91" x2="145.70" y2="732.10" stroke="#7C4E78" stroke-width="2.3"/>
<line x1="140.20" y1="732.10" x2="151.20" y2="732.10" stroke="#7C4E78" stroke-width="2.5"/>
<line x1="217.18" y1="753.61" x2="217.18" y2="741.12" stroke="#7C4E78" stroke-width="2.3"/>
<line x1="211.68" y1="741.12" x2="222.68" y2="741.12" stroke="#7C4E78" stroke-width="2.5"/>
<line x1="252.92" y1="753.84" x2="252.92" y2="742.51" stroke="#7C4E78" stroke-width="2.3"/>
<line x1="247.42" y1="742.51" x2="258.42" y2="742.51" stroke="#7C4E78" stroke-width="2.5"/>
<line x1="288.66" y1="767.25" x2="288.66" y2="756.15" stroke="#7C4E78" stroke-width="2.3"/>
<line x1="283.16" y1="756.15" x2="294.16" y2="756.15" stroke="#7C4E78" stroke-width="2.5"/>
<line x1="360.14" y1="754.99" x2="360.14" y2="739.96" stroke="#7C4E78" stroke-width="2.3"/>
<line x1="354.64" y1="739.96" x2="365.64" y2="739.96" stroke="#7C4E78" stroke-width="2.5"/>
<line x1="395.88" y1="741.35" x2="395.88" y2="726.55" stroke="#7C4E78" stroke-width="2.3"/>
<line x1="390.38" y1="726.55" x2="401.38" y2="726.55" stroke="#7C4E78" stroke-width="2.5"/>
<line x1="431.62" y1="741.35" x2="431.62" y2="724.70" stroke="#7C4E78" stroke-width="2.3"/>
<line x1="426.12" y1="724.70" x2="437.12" y2="724.70" stroke="#7C4E78" stroke-width="2.5"/>
<line x1="467.36" y1="743.43" x2="467.36" y2="731.18" stroke="#7C4E78" stroke-width="2.3"/>
<line x1="461.86" y1="731.18" x2="472.86" y2="731.18" stroke="#7C4E78" stroke-width="2.5"/>
<polygon points="145.70,746.31 152.30,752.91 145.70,759.51 139.10,752.91" fill="#7C4E78" stroke="#7C4E78" stroke-width="0.6" stroke-linejoin="round"/>
<polygon points="181.44,743.08 188.04,749.68 181.44,756.28 174.84,749.68" fill="#7C4E78" stroke="#7C4E78" stroke-width="0.6" stroke-linejoin="round"/>
<polygon points="217.18,747.01 223.78,753.61 217.18,760.21 210.58,753.61" fill="#7C4E78" stroke="#7C4E78" stroke-width="0.6" stroke-linejoin="round"/>
<polygon points="252.92,747.24 259.52,753.84 252.92,760.44 246.32,753.84" fill="#7C4E78" stroke="#7C4E78" stroke-width="0.6" stroke-linejoin="round"/>
<polygon points="288.66,760.65 295.26,767.25 288.66,773.85 282.06,767.25" fill="#7C4E78" stroke="#7C4E78" stroke-width="0.6" stroke-linejoin="round"/>
<polygon points="324.40,759.96 331.00,766.56 324.40,773.16 317.80,766.56" fill="#7C4E78" stroke="#7C4E78" stroke-width="0.6" stroke-linejoin="round"/>
<polygon points="360.14,748.39 366.74,754.99 360.14,761.59 353.54,754.99" fill="#7C4E78" stroke="#7C4E78" stroke-width="0.6" stroke-linejoin="round"/>
<polygon points="395.88,734.75 402.48,741.35 395.88,747.95 389.28,741.35" fill="#7C4E78" stroke="#7C4E78" stroke-width="0.6" stroke-linejoin="round"/>
<polygon points="431.62,734.75 438.22,741.35 431.62,747.95 425.02,741.35" fill="#7C4E78" stroke="#7C4E78" stroke-width="0.6" stroke-linejoin="round"/>
<polygon points="467.36,736.83 473.96,743.43 467.36,750.03 460.76,743.43" fill="#7C4E78" stroke="#7C4E78" stroke-width="0.6" stroke-linejoin="round"/>
<text x="487" y="807.9" font-size="29">**</text>
<path d="M122.40,968.30 V1152.50 H493.00" fill="none" stroke="#000" stroke-width="2.6"/>
<line x1="112.40" y1="1152.50" x2="122.40" y2="1152.50" stroke="#000" stroke-width="2.6"/>
<text x="106.90" y="1160.30" text-anchor="end" font-size="17.5">0</text>
<line x1="112.40" y1="1115.66" x2="122.40" y2="1115.66" stroke="#000" stroke-width="2.6"/>
<text x="106.90" y="1123.46" text-anchor="end" font-size="17.5">5</text>
<line x1="112.40" y1="1078.82" x2="122.40" y2="1078.82" stroke="#000" stroke-width="2.6"/>
<text x="106.90" y="1086.62" text-anchor="end" font-size="17.5">10</text>
<line x1="112.40" y1="1041.98" x2="122.40" y2="1041.98" stroke="#000" stroke-width="2.6"/>
<text x="106.90" y="1049.78" text-anchor="end" font-size="17.5">15</text>
<line x1="112.40" y1="1005.14" x2="122.40" y2="1005.14" stroke="#000" stroke-width="2.6"/>
<text x="106.90" y="1012.94" text-anchor="end" font-size="17.5">20</text>
<line x1="112.40" y1="968.30" x2="122.40" y2="968.30" stroke="#000" stroke-width="2.6"/>
<text x="106.90" y="976.10" text-anchor="end" font-size="17.5">25</text>
<line x1="145.70" y1="1152.50" x2="145.70" y2="1162.50" stroke="#000" stroke-width="2.6"/>
<text x="145.70" y="1181.30" text-anchor="middle" font-size="17.5">1</text>
<line x1="181.44" y1="1152.50" x2="181.44" y2="1162.50" stroke="#000" stroke-width="2.6"/>
<text x="181.44" y="1181.30" text-anchor="middle" font-size="17.5">2</text>
<line x1="217.18" y1="1152.50" x2="217.18" y2="1162.50" stroke="#000" stroke-width="2.6"/>
<text x="217.18" y="1181.30" text-anchor="middle" font-size="17.5">3</text>
<line x1="252.92" y1="1152.50" x2="252.92" y2="1162.50" stroke="#000" stroke-width="2.6"/>
<text x="252.92" y="1181.30" text-anchor="middle" font-size="17.5">4</text>
<line x1="288.66" y1="1152.50" x2="288.66" y2="1162.50" stroke="#000" stroke-width="2.6"/>
<text x="288.66" y="1181.30" text-anchor="middle" font-size="17.5">5</text>
<line x1="324.40" y1="1152.50" x2="324.40" y2="1162.50" stroke="#000" stroke-width="2.6"/>
<text x="324.40" y="1181.30" text-anchor="middle" font-size="17.5">6</text>
<line x1="360.14" y1="1152.50" x2="360.14" y2="1162.50" stroke="#000" stroke-width="2.6"/>
<text x="360.14" y="1181.30" text-anchor="middle" font-size="17.5">7</text>
<line x1="395.88" y1="1152.50" x2="395.88" y2="1162.50" stroke="#000" stroke-width="2.6"/>
<text x="395.88" y="1181.30" text-anchor="middle" font-size="17.5">8</text>
<line x1="431.62" y1="1152.50" x2="431.62" y2="1162.50" stroke="#000" stroke-width="2.6"/>
<text x="431.62" y="1181.30" text-anchor="middle" font-size="17.5">9</text>
<line x1="467.36" y1="1152.50" x2="467.36" y2="1162.50" stroke="#000" stroke-width="2.6"/>
<text x="467.36" y="1181.30" text-anchor="middle" font-size="17.5">10</text>
<text x="226.50" y="1207.50" font-size="20" font-weight="bold" letter-spacing="1.05">Seizure Number</text>
<text transform="translate(33.70,1062.90) rotate(-90)" text-anchor="middle" font-size="20.5" font-weight="bold">HR&#160; - Coefficient</text>
<text transform="translate(59.20,1062.20) rotate(-90)" text-anchor="middle" font-size="20.5" font-weight="bold">of Variance (%)</text>
<text x="-0.5" y="948.3" font-size="22.5" font-weight="bold">d</text>
<polyline points="145.70,1125.02 181.44,1117.58 217.18,1108.00 252.92,1119.20 288.66,1107.63 324.40,1099.01 360.14,1106.82 395.88,1108.29 431.62,1108.00 467.36,1117.21" fill="none" stroke="#000000" stroke-width="2.7" stroke-linejoin="round"/>
<line x1="217.18" y1="1108.00" x2="217.18" y2="1100.33" stroke="#000000" stroke-width="2.3"/>
<line x1="211.68" y1="1100.33" x2="222.68" y2="1100.33" stroke="#000000" stroke-width="2.5"/>
<line x1="288.66" y1="1107.63" x2="288.66" y2="1098.27" stroke="#000000" stroke-width="2.3"/>
<line x1="283.16" y1="1098.27" x2="294.16" y2="1098.27" stroke="#000000" stroke-width="2.5"/>
<line x1="431.62" y1="1108.00" x2="431.62" y2="1101.07" stroke="#000000" stroke-width="2.3"/>
<line x1="426.12" y1="1101.07" x2="437.12" y2="1101.07" stroke="#000000" stroke-width="2.5"/>
<circle cx="145.70" cy="1125.02" r="6.60" fill="#000000"/>
<circle cx="181.44" cy="1117.58" r="6.60" fill="#000000"/>
<circle cx="217.18" cy="1108.00" r="6.60" fill="#000000"/>
<circle cx="252.92" cy="1119.20" r="6.60" fill="#000000"/>
<circle cx="288.66" cy="1107.63" r="6.60" fill="#000000"/>
<circle cx="324.40" cy="1099.01" r="6.60" fill="#000000"/>
<circle cx="360.14" cy="1106.82" r="6.60" fill="#000000"/>
<circle cx="395.88" cy="1108.29" r="6.60" fill="#000000"/>
<circle cx="431.62" cy="1108.00" r="6.60" fill="#000000"/>
<circle cx="467.36" cy="1117.21" r="6.60" fill="#000000"/>
<polyline points="145.70,1101.88 181.44,1117.50 217.18,1054.51 252.92,1034.61 288.66,1048.10 324.40,1012.07 360.14,1021.50 395.88,1021.50 431.62,1022.60 467.36,1068.80" fill="none" stroke="#E8821E" stroke-width="2.7" stroke-linejoin="round"/>
<line x1="217.18" y1="1054.51" x2="217.18" y2="1036.90" stroke="#E8821E" stroke-width="2.3"/>
<line x1="211.68" y1="1036.90" x2="222.68" y2="1036.90" stroke="#E8821E" stroke-width="2.5"/>
<line x1="252.92" y1="1034.61" x2="252.92" y2="1014.50" stroke="#E8821E" stroke-width="2.3"/>
<line x1="247.42" y1="1014.50" x2="258.42" y2="1014.50" stroke="#E8821E" stroke-width="2.5"/>
<line x1="288.66" y1="1048.10" x2="288.66" y2="1029.82" stroke="#E8821E" stroke-width="2.3"/>
<line x1="283.16" y1="1029.82" x2="294.16" y2="1029.82" stroke="#E8821E" stroke-width="2.5"/>
<line x1="324.40" y1="1012.07" x2="324.40" y2="991.29" stroke="#E8821E" stroke-width="2.3"/>
<line x1="318.90" y1="991.29" x2="329.90" y2="991.29" stroke="#E8821E" stroke-width="2.5"/>
<line x1="360.14" y1="1021.50" x2="360.14" y2="1005.14" stroke="#E8821E" stroke-width="2.3"/>
<line x1="354.64" y1="1005.14" x2="365.64" y2="1005.14" stroke="#E8821E" stroke-width="2.5"/>
<line x1="395.88" y1="1021.50" x2="395.88" y2="993.35" stroke="#E8821E" stroke-width="2.3"/>
<line x1="390.38" y1="993.35" x2="401.38" y2="993.35" stroke="#E8821E" stroke-width="2.5"/>
<line x1="431.62" y1="1022.60" x2="431.62" y2="1011.99" stroke="#E8821E" stroke-width="2.3"/>
<line x1="426.12" y1="1011.99" x2="437.12" y2="1011.99" stroke="#E8821E" stroke-width="2.5"/>
<line x1="467.36" y1="1068.80" x2="467.36" y2="1052.81" stroke="#E8821E" stroke-width="2.3"/>
<line x1="461.86" y1="1052.81" x2="472.86" y2="1052.81" stroke="#E8821E" stroke-width="2.5"/>
<rect x="139.10" y="1095.28" width="13.20" height="13.20" rx="1.6" fill="#E8821E"/>
<rect x="174.84" y="1110.90" width="13.20" height="13.20" rx="1.6" fill="#E8821E"/>
<rect x="210.58" y="1047.91" width="13.20" height="13.20" rx="1.6" fill="#E8821E"/>
<rect x="246.32" y="1028.01" width="13.20" height="13.20" rx="1.6" fill="#E8821E"/>
<rect x="282.06" y="1041.50" width="13.20" height="13.20" rx="1.6" fill="#E8821E"/>
<rect x="317.80" y="1005.47" width="13.20" height="13.20" rx="1.6" fill="#E8821E"/>
<rect x="353.54" y="1014.90" width="13.20" height="13.20" rx="1.6" fill="#E8821E"/>
<rect x="389.28" y="1014.90" width="13.20" height="13.20" rx="1.6" fill="#E8821E"/>
<rect x="425.02" y="1016.00" width="13.20" height="13.20" rx="1.6" fill="#E8821E"/>
<rect x="460.76" y="1062.20" width="13.20" height="13.20" rx="1.6" fill="#E8821E"/>
<polyline points="145.70,1122.73 181.44,1111.24 217.18,1080.07 252.92,1096.13 288.66,1093.41 324.40,1085.30 360.14,1096.21 395.88,1108.81 431.62,1086.19 467.36,1109.99" fill="none" stroke="#519BA3" stroke-width="2.7" stroke-linejoin="round"/>
<line x1="145.70" y1="1122.73" x2="145.70" y2="1117.58" stroke="#519BA3" stroke-width="2.3"/>
<line x1="140.20" y1="1117.58" x2="151.20" y2="1117.58" stroke="#519BA3" stroke-width="2.5"/>
<line x1="181.44" y1="1111.24" x2="181.44" y2="1097.68" stroke="#519BA3" stroke-width="2.3"/>
<line x1="175.94" y1="1097.68" x2="186.94" y2="1097.68" stroke="#519BA3" stroke-width="2.5"/>
<line x1="217.18" y1="1080.07" x2="217.18" y2="1051.93" stroke="#519BA3" stroke-width="2.3"/>
<line x1="211.68" y1="1051.93" x2="222.68" y2="1051.93" stroke="#519BA3" stroke-width="2.5"/>
<line x1="252.92" y1="1096.13" x2="252.92" y2="1073.74" stroke="#519BA3" stroke-width="2.3"/>
<line x1="247.42" y1="1073.74" x2="258.42" y2="1073.74" stroke="#519BA3" stroke-width="2.5"/>
<line x1="324.40" y1="1085.30" x2="324.40" y2="1064.08" stroke="#519BA3" stroke-width="2.3"/>
<line x1="318.90" y1="1064.08" x2="329.90" y2="1064.08" stroke="#519BA3" stroke-width="2.5"/>
<line x1="360.14" y1="1096.21" x2="360.14" y2="1077.35" stroke="#519BA3" stroke-width="2.3"/>
<line x1="354.64" y1="1077.35" x2="365.64" y2="1077.35" stroke="#519BA3" stroke-width="2.5"/>
<line x1="395.88" y1="1108.81" x2="395.88" y2="1099.01" stroke="#519BA3" stroke-width="2.3"/>
<line x1="390.38" y1="1099.01" x2="401.38" y2="1099.01" stroke="#519BA3" stroke-width="2.5"/>
<line x1="431.62" y1="1086.19" x2="431.62" y2="1073.66" stroke="#519BA3" stroke-width="2.3"/>
<line x1="426.12" y1="1073.66" x2="437.12" y2="1073.66" stroke="#519BA3" stroke-width="2.5"/>
<line x1="467.36" y1="1109.99" x2="467.36" y2="1084.71" stroke="#519BA3" stroke-width="2.3"/>
<line x1="461.86" y1="1084.71" x2="472.86" y2="1084.71" stroke="#519BA3" stroke-width="2.5"/>
<polygon points="145.70,1115.73 152.50,1128.73 138.90,1128.73" fill="#519BA3" stroke="#519BA3" stroke-width="0.6" stroke-linejoin="round"/>
<polygon points="181.44,1104.24 188.24,1117.24 174.64,1117.24" fill="#519BA3" stroke="#519BA3" stroke-width="0.6" stroke-linejoin="round"/>
<polygon points="217.18,1073.07 223.98,1086.07 210.38,1086.07" fill="#519BA3" stroke="#519BA3" stroke-width="0.6" stroke-linejoin="round"/>
<polygon points="252.92,1089.13 259.72,1102.13 246.12,1102.13" fill="#519BA3" stroke="#519BA3" stroke-width="0.6" stroke-linejoin="round"/>
<polygon points="288.66,1086.41 295.46,1099.41 281.86,1099.41" fill="#519BA3" stroke="#519BA3" stroke-width="0.6" stroke-linejoin="round"/>
<polygon points="324.40,1078.30 331.20,1091.30 317.60,1091.30" fill="#519BA3" stroke="#519BA3" stroke-width="0.6" stroke-linejoin="round"/>
<polygon points="360.14,1089.21 366.94,1102.21 353.34,1102.21" fill="#519BA3" stroke="#519BA3" stroke-width="0.6" stroke-linejoin="round"/>
<polygon points="395.88,1101.81 402.68,1114.81 389.08,1114.81" fill="#519BA3" stroke="#519BA3" stroke-width="0.6" stroke-linejoin="round"/>
<polygon points="431.62,1079.19 438.42,1092.19 424.82,1092.19" fill="#519BA3" stroke="#519BA3" stroke-width="0.6" stroke-linejoin="round"/>
<polygon points="467.36,1102.99 474.16,1115.99 460.56,1115.99" fill="#519BA3" stroke="#519BA3" stroke-width="0.6" stroke-linejoin="round"/>
<polyline points="145.70,1091.35 181.44,1109.40 217.18,1085.89 252.92,1104.09 288.66,1082.73 324.40,1062.98 360.14,1076.68 395.88,1090.39 431.62,1086.04 467.36,1100.70" fill="none" stroke="#7C4E78" stroke-width="2.7" stroke-linejoin="round"/>
<line x1="145.70" y1="1091.35" x2="145.70" y2="1074.69" stroke="#7C4E78" stroke-width="2.3"/>
<line x1="140.20" y1="1074.69" x2="151.20" y2="1074.69" stroke="#7C4E78" stroke-width="2.5"/>
<line x1="181.44" y1="1109.40" x2="181.44" y2="1099.89" stroke="#7C4E78" stroke-width="2.3"/>
<line x1="175.94" y1="1099.89" x2="186.94" y2="1099.89" stroke="#7C4E78" stroke-width="2.5"/>
<line x1="217.18" y1="1085.89" x2="217.18" y2="1072.19" stroke="#7C4E78" stroke-width="2.3"/>
<line x1="211.68" y1="1072.19" x2="222.68" y2="1072.19" stroke="#7C4E78" stroke-width="2.5"/>
<line x1="252.92" y1="1104.09" x2="252.92" y2="1088.10" stroke="#7C4E78" stroke-width="2.3"/>
<line x1="247.42" y1="1088.10" x2="258.42" y2="1088.10" stroke="#7C4E78" stroke-width="2.5"/>
<line x1="288.66" y1="1082.73" x2="288.66" y2="1076.02" stroke="#7C4E78" stroke-width="2.3"/>
<line x1="283.16" y1="1076.02" x2="294.16" y2="1076.02" stroke="#7C4E78" stroke-width="2.5"/>
<line x1="324.40" y1="1062.98" x2="324.40" y2="1038.30" stroke="#7C4E78" stroke-width="2.3"/>
<line x1="318.90" y1="1038.30" x2="329.90" y2="1038.30" stroke="#7C4E78" stroke-width="2.5"/>
<line x1="360.14" y1="1076.68" x2="360.14" y2="1055.24" stroke="#7C4E78" stroke-width="2.3"/>
<line x1="354.64" y1="1055.24" x2="365.64" y2="1055.24" stroke="#7C4E78" stroke-width="2.5"/>
<line x1="395.88" y1="1090.39" x2="395.88" y2="1075.50" stroke="#7C4E78" stroke-width="2.3"/>
<line x1="390.38" y1="1075.50" x2="401.38" y2="1075.50" stroke="#7C4E78" stroke-width="2.5"/>
<line x1="431.62" y1="1086.04" x2="431.62" y2="1069.61" stroke="#7C4E78" stroke-width="2.3"/>
<line x1="426.12" y1="1069.61" x2="437.12" y2="1069.61" stroke="#7C4E78" stroke-width="2.5"/>
<line x1="467.36" y1="1100.70" x2="467.36" y2="1091.20" stroke="#7C4E78" stroke-width="2.3"/>
<line x1="461.86" y1="1091.20" x2="472.86" y2="1091.20" stroke="#7C4E78" stroke-width="2.5"/>
<polygon points="145.70,1084.75 152.30,1091.35 145.70,1097.95 139.10,1091.35" fill="#7C4E78" stroke="#7C4E78" stroke-width="0.6" stroke-linejoin="round"/>
<polygon points="181.44,1102.80 188.04,1109.40 181.44,1116.00 174.84,1109.40" fill="#7C4E78" stroke="#7C4E78" stroke-width="0.6" stroke-linejoin="round"/>
<polygon points="217.18,1079.29 223.78,1085.89 217.18,1092.49 210.58,1085.89" fill="#7C4E78" stroke="#7C4E78" stroke-width="0.6" stroke-linejoin="round"/>
<polygon points="252.92,1097.49 259.52,1104.09 252.92,1110.69 246.32,1104.09" fill="#7C4E78" stroke="#7C4E78" stroke-width="0.6" stroke-linejoin="round"/>
<polygon points="288.66,1076.13 295.26,1082.73 288.66,1089.33 282.06,1082.73" fill="#7C4E78" stroke="#7C4E78" stroke-width="0.6" stroke-linejoin="round"/>
<polygon points="324.40,1056.38 331.00,1062.98 324.40,1069.58 317.80,1062.98" fill="#7C4E78" stroke="#7C4E78" stroke-width="0.6" stroke-linejoin="round"/>
<polygon points="360.14,1070.08 366.74,1076.68 360.14,1083.28 353.54,1076.68" fill="#7C4E78" stroke="#7C4E78" stroke-width="0.6" stroke-linejoin="round"/>
<polygon points="395.88,1083.79 402.48,1090.39 395.88,1096.99 389.28,1090.39" fill="#7C4E78" stroke="#7C4E78" stroke-width="0.6" stroke-linejoin="round"/>
<polygon points="431.62,1079.44 438.22,1086.04 431.62,1092.64 425.02,1086.04" fill="#7C4E78" stroke="#7C4E78" stroke-width="0.6" stroke-linejoin="round"/>
<polygon points="467.36,1094.10 473.96,1100.70 467.36,1107.30 460.76,1100.70" fill="#7C4E78" stroke="#7C4E78" stroke-width="0.6" stroke-linejoin="round"/>
<text x="487" y="1086" font-size="29">**</text>
<text x="482" y="1121" font-size="34">†</text>
<path d="M119.00,1266.00 V1450.50 H489.00" fill="none" stroke="#000" stroke-width="2.6"/>
<line x1="109.00" y1="1450.50" x2="119.00" y2="1450.50" stroke="#000" stroke-width="2.6"/>
<text x="103.50" y="1457.30" text-anchor="end" font-size="17.5">50</text>
<line x1="109.00" y1="1419.75" x2="119.00" y2="1419.75" stroke="#000" stroke-width="2.6"/>
<text x="103.50" y="1426.55" text-anchor="end" font-size="17.5">60</text>
<line x1="109.00" y1="1389.00" x2="119.00" y2="1389.00" stroke="#000" stroke-width="2.6"/>
<text x="103.50" y="1395.80" text-anchor="end" font-size="17.5">70</text>
<line x1="109.00" y1="1358.25" x2="119.00" y2="1358.25" stroke="#000" stroke-width="2.6"/>
<text x="103.50" y="1365.05" text-anchor="end" font-size="17.5">80</text>
<line x1="109.00" y1="1327.50" x2="119.00" y2="1327.50" stroke="#000" stroke-width="2.6"/>
<text x="103.50" y="1334.30" text-anchor="end" font-size="17.5">90</text>
<line x1="109.00" y1="1296.75" x2="119.00" y2="1296.75" stroke="#000" stroke-width="2.6"/>
<text x="103.50" y="1303.55" text-anchor="end" font-size="17.5">100</text>
<line x1="109.00" y1="1266.00" x2="119.00" y2="1266.00" stroke="#000" stroke-width="2.6"/>
<text x="103.50" y="1272.80" text-anchor="end" font-size="17.5">110</text>
<line x1="142.60" y1="1450.50" x2="142.60" y2="1460.50" stroke="#000" stroke-width="2.6"/>
<text x="142.60" y="1481.50" text-anchor="middle" font-size="17.5">1</text>
<line x1="178.30" y1="1450.50" x2="178.30" y2="1460.50" stroke="#000" stroke-width="2.6"/>
<text x="178.30" y="1481.50" text-anchor="middle" font-size="17.5">2</text>
<line x1="214.00" y1="1450.50" x2="214.00" y2="1460.50" stroke="#000" stroke-width="2.6"/>
<text x="214.00" y="1481.50" text-anchor="middle" font-size="17.5">3</text>
<line x1="249.70" y1="1450.50" x2="249.70" y2="1460.50" stroke="#000" stroke-width="2.6"/>
<text x="249.70" y="1481.50" text-anchor="middle" font-size="17.5">4</text>
<line x1="285.40" y1="1450.50" x2="285.40" y2="1460.50" stroke="#000" stroke-width="2.6"/>
<text x="285.40" y="1481.50" text-anchor="middle" font-size="17.5">5</text>
<line x1="321.10" y1="1450.50" x2="321.10" y2="1460.50" stroke="#000" stroke-width="2.6"/>
<text x="321.10" y="1481.50" text-anchor="middle" font-size="17.5">6</text>
<line x1="356.80" y1="1450.50" x2="356.80" y2="1460.50" stroke="#000" stroke-width="2.6"/>
<text x="356.80" y="1481.50" text-anchor="middle" font-size="17.5">7</text>
<line x1="392.50" y1="1450.50" x2="392.50" y2="1460.50" stroke="#000" stroke-width="2.6"/>
<text x="392.50" y="1481.50" text-anchor="middle" font-size="17.5">8</text>
<line x1="428.20" y1="1450.50" x2="428.20" y2="1460.50" stroke="#000" stroke-width="2.6"/>
<text x="428.20" y="1481.50" text-anchor="middle" font-size="17.5">9</text>
<line x1="463.90" y1="1450.50" x2="463.90" y2="1460.50" stroke="#000" stroke-width="2.6"/>
<text x="463.90" y="1481.50" text-anchor="middle" font-size="17.5">10</text>
<text x="223.00" y="1527.00" font-size="20.4" font-weight="bold" letter-spacing="0">Seizure Number</text>
<text transform="translate(43.00,1360.50) rotate(-90)" text-anchor="middle" font-size="20.5" font-weight="bold">Average</text>
<text transform="translate(68.20,1359.50) rotate(-90)" text-anchor="middle" font-size="20.5" font-weight="bold">QTc Duration (ms)</text>
<text x="-0.8" y="1249.5" font-size="22.5" font-weight="bold">e</text>
<polyline points="142.60,1390.85 178.30,1393.61 214.00,1386.23 249.70,1364.40 285.40,1366.24 321.10,1382.85 356.80,1368.70 392.50,1364.40 428.20,1352.71 463.90,1367.47" fill="none" stroke="#7C4E78" stroke-width="2.7" stroke-linejoin="round"/>
<line x1="142.60" y1="1390.85" x2="142.60" y2="1372.39" stroke="#7C4E78" stroke-width="2.3"/>
<line x1="137.10" y1="1372.39" x2="148.10" y2="1372.39" stroke="#7C4E78" stroke-width="2.5"/>
<line x1="178.30" y1="1393.61" x2="178.30" y2="1370.86" stroke="#7C4E78" stroke-width="2.3"/>
<line x1="172.80" y1="1370.86" x2="183.80" y2="1370.86" stroke="#7C4E78" stroke-width="2.5"/>
<line x1="249.70" y1="1364.40" x2="249.70" y2="1339.18" stroke="#7C4E78" stroke-width="2.3"/>
<line x1="244.20" y1="1339.18" x2="255.20" y2="1339.18" stroke="#7C4E78" stroke-width="2.5"/>
<line x1="285.40" y1="1366.24" x2="285.40" y2="1346.26" stroke="#7C4E78" stroke-width="2.3"/>
<line x1="279.90" y1="1346.26" x2="290.90" y2="1346.26" stroke="#7C4E78" stroke-width="2.5"/>
<line x1="356.80" y1="1368.70" x2="356.80" y2="1348.41" stroke="#7C4E78" stroke-width="2.3"/>
<line x1="351.30" y1="1348.41" x2="362.30" y2="1348.41" stroke="#7C4E78" stroke-width="2.5"/>
<line x1="392.50" y1="1364.40" x2="392.50" y2="1342.88" stroke="#7C4E78" stroke-width="2.3"/>
<line x1="387.00" y1="1342.88" x2="398.00" y2="1342.88" stroke="#7C4E78" stroke-width="2.5"/>
<line x1="463.90" y1="1367.47" x2="463.90" y2="1354.25" stroke="#7C4E78" stroke-width="2.3"/>
<line x1="458.40" y1="1354.25" x2="469.40" y2="1354.25" stroke="#7C4E78" stroke-width="2.5"/>
<polygon points="142.60,1384.25 149.20,1390.85 142.60,1397.44 136.00,1390.85" fill="#7C4E78" stroke="#7C4E78" stroke-width="0.6" stroke-linejoin="round"/>
<polygon points="178.30,1387.01 184.90,1393.61 178.30,1400.21 171.70,1393.61" fill="#7C4E78" stroke="#7C4E78" stroke-width="0.6" stroke-linejoin="round"/>
<polygon points="214.00,1379.63 220.60,1386.23 214.00,1392.83 207.40,1386.23" fill="#7C4E78" stroke="#7C4E78" stroke-width="0.6" stroke-linejoin="round"/>
<polygon points="249.70,1357.80 256.30,1364.40 249.70,1371.00 243.10,1364.40" fill="#7C4E78" stroke="#7C4E78" stroke-width="0.6" stroke-linejoin="round"/>
<polygon points="285.40,1359.64 292.00,1366.24 285.40,1372.84 278.80,1366.24" fill="#7C4E78" stroke="#7C4E78" stroke-width="0.6" stroke-linejoin="round"/>
<polygon points="321.10,1376.25 327.70,1382.85 321.10,1389.45 314.50,1382.85" fill="#7C4E78" stroke="#7C4E78" stroke-width="0.6" stroke-linejoin="round"/>
<polygon points="356.80,1362.11 363.40,1368.70 356.80,1375.30 350.20,1368.70" fill="#7C4E78" stroke="#7C4E78" stroke-width="0.6" stroke-linejoin="round"/>
<polygon points="392.50,1357.80 399.10,1364.40 392.50,1371.00 385.90,1364.40" fill="#7C4E78" stroke="#7C4E78" stroke-width="0.6" stroke-linejoin="round"/>
<polygon points="428.20,1346.12 434.80,1352.71 428.20,1359.31 421.60,1352.71" fill="#7C4E78" stroke="#7C4E78" stroke-width="0.6" stroke-linejoin="round"/>
<polygon points="463.90,1360.88 470.50,1367.47 463.90,1374.07 457.30,1367.47" fill="#7C4E78" stroke="#7C4E78" stroke-width="0.6" stroke-linejoin="round"/>
<polyline points="142.60,1332.11 178.30,1421.90 214.00,1400.07 249.70,1361.94 285.40,1382.85 321.10,1363.48 356.80,1359.17 392.50,1357.94 428.20,1339.80 463.90,1326.27" fill="none" stroke="#519BA3" stroke-width="2.7" stroke-linejoin="round"/>
<line x1="142.60" y1="1332.11" x2="142.60" y2="1284.14" stroke="#519BA3" stroke-width="2.3"/>
<line x1="137.10" y1="1284.14" x2="148.10" y2="1284.14" stroke="#519BA3" stroke-width="2.5"/>
<line x1="214.00" y1="1400.07" x2="214.00" y2="1367.78" stroke="#519BA3" stroke-width="2.3"/>
<line x1="208.50" y1="1367.78" x2="219.50" y2="1367.78" stroke="#519BA3" stroke-width="2.5"/>
<line x1="249.70" y1="1361.94" x2="249.70" y2="1333.34" stroke="#519BA3" stroke-width="2.3"/>
<line x1="244.20" y1="1333.34" x2="255.20" y2="1333.34" stroke="#519BA3" stroke-width="2.5"/>
<line x1="285.40" y1="1382.85" x2="285.40" y2="1361.33" stroke="#519BA3" stroke-width="2.3"/>
<line x1="279.90" y1="1361.33" x2="290.90" y2="1361.33" stroke="#519BA3" stroke-width="2.5"/>
<line x1="321.10" y1="1363.48" x2="321.10" y2="1340.41" stroke="#519BA3" stroke-width="2.3"/>
<line x1="315.60" y1="1340.41" x2="326.60" y2="1340.41" stroke="#519BA3" stroke-width="2.5"/>
<line x1="356.80" y1="1359.17" x2="356.80" y2="1336.72" stroke="#519BA3" stroke-width="2.3"/>
<line x1="351.30" y1="1336.72" x2="362.30" y2="1336.72" stroke="#519BA3" stroke-width="2.5"/>
<line x1="392.50" y1="1357.94" x2="392.50" y2="1330.27" stroke="#519BA3" stroke-width="2.3"/>
<line x1="387.00" y1="1330.27" x2="398.00" y2="1330.27" stroke="#519BA3" stroke-width="2.5"/>
<line x1="428.20" y1="1339.80" x2="428.20" y2="1317.66" stroke="#519BA3" stroke-width="2.3"/>
<line x1="422.70" y1="1317.66" x2="433.70" y2="1317.66" stroke="#519BA3" stroke-width="2.5"/>
<line x1="463.90" y1="1326.27" x2="463.90" y2="1298.29" stroke="#519BA3" stroke-width="2.3"/>
<line x1="458.40" y1="1298.29" x2="469.40" y2="1298.29" stroke="#519BA3" stroke-width="2.5"/>
<polygon points="142.60,1325.11 149.40,1338.11 135.80,1338.11" fill="#519BA3" stroke="#519BA3" stroke-width="0.6" stroke-linejoin="round"/>
<polygon points="178.30,1414.90 185.10,1427.90 171.50,1427.90" fill="#519BA3" stroke="#519BA3" stroke-width="0.6" stroke-linejoin="round"/>
<polygon points="214.00,1393.07 220.80,1406.07 207.20,1406.07" fill="#519BA3" stroke="#519BA3" stroke-width="0.6" stroke-linejoin="round"/>
<polygon points="249.70,1354.94 256.50,1367.94 242.90,1367.94" fill="#519BA3" stroke="#519BA3" stroke-width="0.6" stroke-linejoin="round"/>
<polygon points="285.40,1375.85 292.20,1388.85 278.60,1388.85" fill="#519BA3" stroke="#519BA3" stroke-width="0.6" stroke-linejoin="round"/>
<polygon points="321.10,1356.48 327.90,1369.48 314.30,1369.48" fill="#519BA3" stroke="#519BA3" stroke-width="0.6" stroke-linejoin="round"/>
<polygon points="356.80,1352.17 363.60,1365.17 350.00,1365.17" fill="#519BA3" stroke="#519BA3" stroke-width="0.6" stroke-linejoin="round"/>
<polygon points="392.50,1350.94 399.30,1363.94 385.70,1363.94" fill="#519BA3" stroke="#519BA3" stroke-width="0.6" stroke-linejoin="round"/>
<polygon points="428.20,1332.80 435.00,1345.80 421.40,1345.80" fill="#519BA3" stroke="#519BA3" stroke-width="0.6" stroke-linejoin="round"/>
<polygon points="463.90,1319.27 470.70,1332.27 457.10,1332.27" fill="#519BA3" stroke="#519BA3" stroke-width="0.6" stroke-linejoin="round"/>
<polyline points="142.60,1395.46 178.30,1412.37 214.00,1403.45 249.70,1387.15 285.40,1387.15 321.10,1381.01 356.80,1373.62 392.50,1377.93 428.20,1382.54 463.90,1372.39" fill="none" stroke="#E8821E" stroke-width="2.7" stroke-linejoin="round"/>
<line x1="142.60" y1="1395.46" x2="142.60" y2="1384.39" stroke="#E8821E" stroke-width="2.3"/>
<line x1="137.10" y1="1384.39" x2="148.10" y2="1384.39" stroke="#E8821E" stroke-width="2.5"/>
<line x1="214.00" y1="1403.45" x2="214.00" y2="1394.84" stroke="#E8821E" stroke-width="2.3"/>
<line x1="208.50" y1="1394.84" x2="219.50" y2="1394.84" stroke="#E8821E" stroke-width="2.5"/>
<line x1="249.70" y1="1387.15" x2="249.70" y2="1374.24" stroke="#E8821E" stroke-width="2.3"/>
<line x1="244.20" y1="1374.24" x2="255.20" y2="1374.24" stroke="#E8821E" stroke-width="2.5"/>
<line x1="285.40" y1="1387.15" x2="285.40" y2="1369.63" stroke="#E8821E" stroke-width="2.3"/>
<line x1="279.90" y1="1369.63" x2="290.90" y2="1369.63" stroke="#E8821E" stroke-width="2.5"/>
<line x1="428.20" y1="1382.54" x2="428.20" y2="1376.70" stroke="#E8821E" stroke-width="2.3"/>
<line x1="422.70" y1="1376.70" x2="433.70" y2="1376.70" stroke="#E8821E" stroke-width="2.5"/>
<line x1="463.90" y1="1372.39" x2="463.90" y2="1358.25" stroke="#E8821E" stroke-width="2.3"/>
<line x1="458.40" y1="1358.25" x2="469.40" y2="1358.25" stroke="#E8821E" stroke-width="2.5"/>
<rect x="136.00" y="1388.86" width="13.20" height="13.20" rx="1.6" fill="#E8821E"/>
<rect x="171.70" y="1405.77" width="13.20" height="13.20" rx="1.6" fill="#E8821E"/>
<rect x="207.40" y="1396.85" width="13.20" height="13.20" rx="1.6" fill="#E8821E"/>
<rect x="243.10" y="1380.56" width="13.20" height="13.20" rx="1.6" fill="#E8821E"/>
<rect x="278.80" y="1380.56" width="13.20" height="13.20" rx="1.6" fill="#E8821E"/>
<rect x="314.50" y="1374.41" width="13.20" height="13.20" rx="1.6" fill="#E8821E"/>
<rect x="350.20" y="1367.03" width="13.20" height="13.20" rx="1.6" fill="#E8821E"/>
<rect x="385.90" y="1371.33" width="13.20" height="13.20" rx="1.6" fill="#E8821E"/>
<rect x="421.60" y="1375.94" width="13.20" height="13.20" rx="1.6" fill="#E8821E"/>
<rect x="457.30" y="1365.80" width="13.20" height="13.20" rx="1.6" fill="#E8821E"/>
<polyline points="142.60,1416.06 178.30,1399.45 214.00,1418.83 249.70,1412.06 285.40,1408.99 321.10,1385.92 356.80,1371.78 392.50,1403.45 428.20,1401.61 463.90,1398.84" fill="none" stroke="#000000" stroke-width="2.7" stroke-linejoin="round"/>
<line x1="142.60" y1="1416.06" x2="142.60" y2="1400.99" stroke="#000000" stroke-width="2.3"/>
<line x1="137.10" y1="1400.99" x2="148.10" y2="1400.99" stroke="#000000" stroke-width="2.5"/>
<line x1="178.30" y1="1399.45" x2="178.30" y2="1381.31" stroke="#000000" stroke-width="2.3"/>
<line x1="172.80" y1="1381.31" x2="183.80" y2="1381.31" stroke="#000000" stroke-width="2.5"/>
<line x1="214.00" y1="1418.83" x2="214.00" y2="1408.37" stroke="#000000" stroke-width="2.3"/>
<line x1="208.50" y1="1408.37" x2="219.50" y2="1408.37" stroke="#000000" stroke-width="2.5"/>
<line x1="249.70" y1="1412.06" x2="249.70" y2="1402.22" stroke="#000000" stroke-width="2.3"/>
<line x1="244.20" y1="1402.22" x2="255.20" y2="1402.22" stroke="#000000" stroke-width="2.5"/>
<line x1="285.40" y1="1408.99" x2="285.40" y2="1392.69" stroke="#000000" stroke-width="2.3"/>
<line x1="279.90" y1="1392.69" x2="290.90" y2="1392.69" stroke="#000000" stroke-width="2.5"/>
<line x1="321.10" y1="1385.92" x2="321.10" y2="1372.39" stroke="#000000" stroke-width="2.3"/>
<line x1="315.60" y1="1372.39" x2="326.60" y2="1372.39" stroke="#000000" stroke-width="2.5"/>
<line x1="356.80" y1="1371.78" x2="356.80" y2="1341.03" stroke="#000000" stroke-width="2.3"/>
<line x1="351.30" y1="1341.03" x2="362.30" y2="1341.03" stroke="#000000" stroke-width="2.5"/>
<line x1="392.50" y1="1403.45" x2="392.50" y2="1383.77" stroke="#000000" stroke-width="2.3"/>
<line x1="387.00" y1="1383.77" x2="398.00" y2="1383.77" stroke="#000000" stroke-width="2.5"/>
<line x1="428.20" y1="1401.61" x2="428.20" y2="1389.00" stroke="#000000" stroke-width="2.3"/>
<line x1="422.70" y1="1389.00" x2="433.70" y2="1389.00" stroke="#000000" stroke-width="2.5"/>
<line x1="463.90" y1="1398.84" x2="463.90" y2="1392.38" stroke="#000000" stroke-width="2.3"/>
<line x1="458.40" y1="1392.38" x2="469.40" y2="1392.38" stroke="#000000" stroke-width="2.5"/>
<circle cx="142.60" cy="1416.06" r="6.60" fill="#000000"/>
<circle cx="178.30" cy="1399.45" r="6.60" fill="#000000"/>
<circle cx="214.00" cy="1418.83" r="6.60" fill="#000000"/>
<circle cx="249.70" cy="1412.06" r="6.60" fill="#000000"/>
<circle cx="285.40" cy="1408.99" r="6.60" fill="#000000"/>
<circle cx="321.10" cy="1385.92" r="6.60" fill="#000000"/>
<circle cx="356.80" cy="1371.78" r="6.60" fill="#000000"/>
<circle cx="392.50" cy="1403.45" r="6.60" fill="#000000"/>
<circle cx="428.20" cy="1401.61" r="6.60" fill="#000000"/>
<circle cx="463.90" cy="1398.84" r="6.60" fill="#000000"/>
<path d="M478,1326 H487 V1370 H478" fill="none" stroke="#000" stroke-width="2.1"/>
<path d="M478,1376.5 H487 V1398 H478" fill="none" stroke="#000" stroke-width="2.1"/>
<path d="M514,1326 H523 V1398 H514" fill="none" stroke="#000" stroke-width="2.1"/>
<text x="491" y="1364.2" font-size="29">*</text>
<text x="488.5" y="1402.2" font-size="29">**</text>
<text x="525.2" y="1374.5" font-size="29" letter-spacing="0.6">***</text>
</svg></body></html>
